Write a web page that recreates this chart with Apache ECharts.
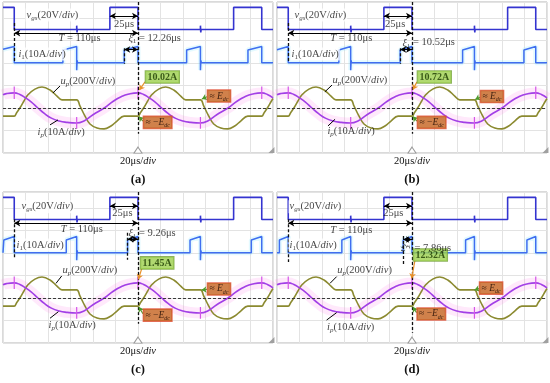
<!DOCTYPE html>
<html><head><meta charset="utf-8">
<script src="https://cdn.jsdelivr.net/npm/echarts@6/dist/echarts.min.js"></script>
<style>html,body{margin:0;padding:0;background:#fff}#c{width:550px;height:383px}</style>
</head><body><div id="c"></div>
<script>
// ---- data (time in μs, vertical position in screen divisions from the bottom) ----
const panelNames = ['(a)', '(b)', '(c)', '(d)'];
const xiValues = [12.26, 10.52, 9.26, 7.86];
const peakCurrents = ['10.02A', '10.72A', '11.45A', '12.32A'];
const timeDivLabel = '20μs/div';

const vgs = [[0,6.47],[10,6.47],[10,5.49],[65.5,5.49],[65.5,5.66],[65.8,5.36],[66.1,5.49],[95,5.49],[95,6.47],[120,6.47],[120,5.49],[175.5,5.49],[175.5,5.66],[175.8,5.36],[176.1,5.49],[205,5.49],[205,6.47],[230,6.47],[230,5.49],[240,5.49]];

const i1A = [[0,4.61],[10,4.73],[10,4.01],[53.24,4.01],[53.24,4.58],[65.5,4.73],[65.5,3.68],[65.9,4.12],[66.3,4.01],[107.74,4.01],[107.74,4.58],[120,4.73],[120,4.01],[163.24,4.01],[163.24,4.58],[175.5,4.73],[175.5,3.68],[175.9,4.12],[176.3,4.01],[217.74,4.01],[217.74,4.58],[230,4.73],[230,4.01],[240,4.01]];
const i1B = [[0,4.59],[10,4.73],[10,4.01],[54.98,4.01],[54.98,4.58],[65.5,4.73],[65.5,3.68],[65.9,4.12],[66.3,4.01],[109.48,4.01],[109.48,4.58],[120,4.73],[120,4.01],[164.98,4.01],[164.98,4.58],[175.5,4.73],[175.5,3.68],[175.9,4.12],[176.3,4.01],[219.48,4.01],[219.48,4.58],[230,4.73],[230,4.01],[240,4.01]];
const i1C = [[0,4.01],[0.74,4.01],[0.74,4.58],[10,4.73],[10,4.01],[56.24,4.01],[56.24,4.58],[65.5,4.73],[65.5,3.68],[65.9,4.12],[66.3,4.01],[110.74,4.01],[110.74,4.58],[120,4.73],[120,4.01],[166.24,4.01],[166.24,4.58],[175.5,4.73],[175.5,3.68],[175.9,4.12],[176.3,4.01],[220.74,4.01],[220.74,4.58],[230,4.73],[230,4.01],[240,4.01]];
const i1D = [[0,4.01],[2.14,4.01],[2.14,4.58],[10,4.73],[10,4.01],[57.64,4.01],[57.64,4.58],[65.5,4.73],[65.5,3.68],[65.9,4.12],[66.3,4.01],[112.14,4.01],[112.14,4.58],[120,4.73],[120,4.01],[167.64,4.01],[167.64,4.58],[175.5,4.73],[175.5,3.68],[175.9,4.12],[176.3,4.01],[222.14,4.01],[222.14,4.58],[230,4.73],[230,4.01],[240,4.01]];

const up = [[0,1.64],[10,1.64],[12,1.78],[15,2.0],[18.5,2.3],[22,2.58],[28.4,2.84],[34.7,2.93],[41.8,2.8],[48,2.53],[52.4,2.36],[65.5,2.36],[68.4,2.09],[72.9,1.64],[77.3,1.29],[83.6,1.11],[89.8,1.07],[96,1.2],[101.3,1.42],[107.6,1.64],[120,1.64],[122,1.78],[125,2.0],[128.5,2.3],[132,2.58],[138.4,2.84],[144.7,2.93],[151.8,2.8],[158,2.53],[162.4,2.36],[175.5,2.36],[178.4,2.09],[182.9,1.64],[187.3,1.29],[193.6,1.11],[199.8,1.07],[206,1.2],[211.3,1.42],[217.6,1.64],[230,1.64],[232,1.78],[235,2.0],[238.5,2.3],[240,2.42]];

const ip = [[0,2.59],[3,2.64],[10,2.67],[15,2.6],[20,2.45],[25,2.27],[31,2.0],[37,1.75],[43,1.55],[50,1.42],[57,1.36],[65,1.33],[72,1.42],[80,1.7],[90,2.0],[98,2.3],[105,2.5],[112,2.62],[120,2.67],[125,2.6],[130,2.45],[135,2.27],[141,2.0],[147,1.75],[153,1.55],[160,1.42],[167,1.36],[175,1.33],[182,1.42],[190,1.7],[200,2.0],[208,2.3],[215,2.5],[222,2.62],[230,2.67],[235,2.6],[240,2.45]];

const ipSpikeT = [10, 65.5, 120, 175.5, 230];
const ipSpikeLo = [2.4, 1.08, 2.4, 1.08, 2.4];
const ipSpikeHi = [2.95, 1.6, 2.95, 1.6, 2.95];

const i1Sets = [i1A, i1B, i1C, i1D];

// ---- layout / styling ----
const FONT = "'Liberation Serif', 'Times New Roman', serif";
const FS = 10.5, FSS = 7;
const R = {
  n:{fontFamily:FONT,fontSize:FS,color:'#111',lineHeight:13},
  i:{fontFamily:FONT,fontSize:FS,fontStyle:'italic',color:'#111',lineHeight:13},
  s:{fontFamily:FONT,fontSize:FSS,color:'#111',lineHeight:9,verticalAlign:'bottom'},
  si:{fontFamily:FONT,fontSize:FSS,fontStyle:'italic',color:'#111',lineHeight:9,verticalAlign:'bottom'},
  g:{fontFamily:FONT,fontSize:10,fontWeight:'bold',color:'#1b3a00',lineHeight:11},
  e:{fontFamily:FONT,fontSize:9.5,color:'#1a0800',lineHeight:12},
  ei:{fontFamily:FONT,fontSize:9.5,fontStyle:'italic',color:'#1a0800',lineHeight:12},
  es:{fontFamily:FONT,fontSize:6,fontStyle:'italic',color:'#1a0800',lineHeight:8,verticalAlign:'bottom'}
};

const L = [
 {gl:3,gt:2, vgsL:[19.6,6.13], T:[68,5.09], t25:[107.6,5.73], xi:[111,5.1], i1L:[12.4,4.4], upL:[50.7,3.2], ipL:[30.2,0.93], peak:[126.2,3.38], E:[181.3,2.53], nE:[124.4,1.36],
  upLead:[[50.7,2.98],[44.4,2.67]], ipLead:[[41.8,1.25],[48.9,1.47]], peakP:[[126.2,3.16],[121.3,2.8]], EP:[[181.3,2.5],[176.8,2.4]], nEP:[[124.4,1.42],[120.8,1.62]],
  d10:[5.78,4.0], dXi:[4.65,3.95], d120:0.85, xiY:4.6},
 {gl:277,gt:2, vgsL:[14.2,6.13], T:[66,5.12], t25:[105,5.73], xi:[111,4.9], i1L:[11.6,4.4], upL:[48.9,3.24], ipL:[44.4,0.95], peak:[124.4,3.38], E:[180.4,2.51], nE:[124.4,1.36],
  upLead:[[48.9,3.02],[42.6,2.72]], ipLead:[[45.3,1.2],[51.6,1.5]], peakP:[[124.4,3.16],[120.8,2.82]], EP:[[180.4,2.48],[176.2,2.38]], nEP:[[124.4,1.42],[120.8,1.62]],
  d10:[5.78,4.0], dXi:[4.65,3.95], d120:0.85, xiY:4.6},
 {gl:3,gt:192, vgsL:[15.1,6.06], T:[70,5.07], t25:[106.2,5.78], xi:[111,4.88], i1L:[10.7,4.36], upL:[52.4,3.24], ipL:[40,0.8], peak:[121.8,3.56], E:[181.3,2.4], nE:[124.4,1.24],
  upLead:[[52.2,2.98],[47.1,2.65]], ipLead:[[41.8,1.1],[49.2,1.39]], peakP:[[123.3,3.3],[120.3,2.83]], EP:[[181.3,2.38],[176.5,2.36]], nEP:[[124.4,1.3],[120.8,1.6]],
  d10:[5.5,3.8], dXi:[4.9,3.7], d120:0.85, xiY:4.62},
 {gl:277,gt:192, vgsL:[9.8,6.06], T:[66,4.99], t25:[103.4,5.78], xi:[121.8,4.22], xiRot:true, i1L:[9.8,4.36], upL:[53,3.24], ipL:[44.1,0.72], peak:[120.9,3.91], E:[179.6,2.44], nE:[124.1,1.29],
  upLead:[[53,2.95],[47.1,2.65]], ipLead:[[44.1,1.02],[53,1.35]], peakP:[[122.7,3.69],[119.7,2.87]], EP:[[179.6,2.42],[175.5,2.36]], nEP:[[124.1,1.35],[120.8,1.6]],
  d10:[5.5,3.6], dXi:[4.75,3.5], d120:0.45, xiY:4.6}
];

function seg(a, b, extra) { return [Object.assign({coord:a}, extra || {}), {coord:b}]; }
function lab(pos, text, extra) {
  return {value:pos, label:Object.assign({show:true, position:'right', distance:0, formatter:text, rich:R}, extra || {})};
}

const grids = [], xAxes = [], yAxes = [], series = [], graphics = [];
L.forEach((p, k) => {
  const xi = xiValues[k];
  const i1 = i1Sets[k];
  grids.push({left:p.gl, top:p.gt, width:270, height:151, show:true, borderColor:'#b5b5b5', borderWidth:1, backgroundColor:'#fff', containLabel:false});
  xAxes.push({type:'value', gridIndex:k, min:0, max:240, interval:20, axisLine:{show:false}, axisTick:{show:false}, axisLabel:{show:false}, splitLine:{show:true, lineStyle:{color:'#e3e3e3', width:1}}});
  yAxes.push({type:'value', gridIndex:k, min:0, max:6.711, interval:1, axisLine:{show:false}, axisTick:{show:false}, axisLabel:{show:false}, splitLine:{show:true, lineStyle:{color:'#e3e3e3', width:1}}});
  const base = {xAxisIndex:k, yAxisIndex:k, symbol:'none', silent:true, animation:false};
  const mlBase = {silent:true, animation:false, label:{show:false}, emphasis:{disabled:true}};

  // glows
  series.push(Object.assign({}, base, {type:'line', data:i1, lineStyle:{color:'rgba(130,230,255,0.22)', width:5}, z:1}));
  series.push(Object.assign({}, base, {type:'line', data:ip, smooth:0.5, lineStyle:{color:'rgba(255,120,230,0.16)', width:11}, z:1}));

  // v_gs with double arrows
  series.push(Object.assign({}, base, {type:'line', data:vgs, lineStyle:{color:'#3434d0', width:1.6}, z:3,
    markLine:Object.assign({}, mlBase, {symbol:['arrow','arrow'], symbolSize:[5,6], lineStyle:{color:'#000', width:1, type:'solid'},
      data:[seg([95,6.09],[120,6.09]), seg([10,5.33],[120,5.33]), seg([120 - xi, p.xiY],[120, p.xiY])]})}));

  // i1 with dashed helper lines
  series.push(Object.assign({}, base, {type:'line', data:i1, lineStyle:{color:'#3f6ef0', width:1.5}, z:3,
    markLine:Object.assign({}, mlBase, {symbol:['none','none'], lineStyle:{color:'#111', width:1.3, type:[3,2]},
      data:[seg([120,6.711],[120,p.d120]), seg([10,p.d10[0]],[10,p.d10[1]]), seg([120 - xi,p.dXi[0]],[120 - xi,p.dXi[1]]),
            seg([0,2],[240,2], {lineStyle:{color:'#3a3a3a', width:1, type:[3,2]}})]})}));

  // u_p with leader lines
  series.push(Object.assign({}, base, {type:'line', data:up, smooth:0.4, lineStyle:{color:'#8b8a30', width:1.6}, z:4,
    markLine:Object.assign({}, mlBase, {symbol:['none','none'], lineStyle:{color:'#000', width:1, type:'solid'},
      data:[seg(p.upLead[0], p.upLead[1]), seg(p.ipLead[0], p.ipLead[1])]})}));

  // i_p with pointers
  series.push(Object.assign({}, base, {type:'line', data:ip, smooth:0.5, lineStyle:{color:'#a23fe6', width:1.6}, z:4,
    markLine:Object.assign({}, mlBase, {symbol:['none','arrow'], symbolSize:5, lineStyle:{color:'#4f9a2c', width:1.2, type:'solid'},
      data:[seg(p.peakP[0], p.peakP[1], {lineStyle:{color:'#e8902a', width:1.2, type:'solid'}}), seg(p.EP[0], p.EP[1]), seg(p.nEP[0], p.nEP[1])]})}));

  // i_p spikes
  const sp = [];
  ipSpikeT.forEach((t, j) => { sp.push([t, ipSpikeLo[j]], [t, ipSpikeHi[j]], [t, '-']); });
  series.push(Object.assign({}, base, {type:'line', data:sp, connectNulls:false, lineStyle:{color:'#d455e8', width:1.2}, z:4}));

  // annotations
  const ann = [
    lab(p.vgsL, '{i|v}{si|gs}{n|(20V/}{i|div}{n|)}', {backgroundColor:'#fff', padding:[0,1]}),
    lab(p.t25, '{n|25μs}', {position:'inside'}),
    lab(p.T, '{i|T}{n| = 110μs}', {position:'inside'}),
    lab(p.i1L, '{i|i}{s|1}{n|(10A/}{i|div}{n|)}', {backgroundColor:'#fff', padding:[0,1]}),
    lab(p.upL, '{i|u}{si|p}{n|(200V/}{i|div}{n|)}'),
    lab(p.ipL, '{i|i}{si|p}{n|(10A/}{i|div}{n|)}'),
    lab(p.peak, '{g|' + peakCurrents[k] + '}', {backgroundColor:'#9ccf4c', borderColor:'#6f9f35', borderWidth:0.8, padding:[1,2,0,2]}),
    lab(p.E, '{e|≈ }{ei|E}{es|dc}', {backgroundColor:'#c4611e', borderColor:'#e04a30', borderWidth:0.8, padding:[0,2]}),
    lab(p.nE, '{e|≈ −}{ei|E}{es|dc}', {backgroundColor:'#c4611e', borderColor:'#e04a30', borderWidth:0.8, padding:[0,2]})
  ];
  if (p.xiRot) {
    ann.push(lab([114.8, 4.22], '{i|ξ}{s|1}', {position:'inside', rotate:-90}));
    ann.push(lab(p.xi, '{n|= ' + xi.toFixed(2) + 'μs}'));
  } else {
    ann.push(lab(p.xi, '{i|ξ}{s|1}{n| = ' + xi.toFixed(2) + 'μs}'));
  }
  series.push({type:'scatter', xAxisIndex:k, yAxisIndex:k, silent:true, animation:false, symbol:'circle', symbolSize:1,
    itemStyle:{color:'transparent'}, z:10, data:ann,
    markPoint:{silent:true, animation:false, label:{show:false},
      data:[{coord:[120,0.13], symbol:'triangle', symbolSize:[8,6], itemStyle:{color:'#fff', borderColor:'#9a9a9a', borderWidth:1}},
            {coord:[238.6,0.13], symbol:'path://M10 0L10 10L0 10Z', symbolSize:6, itemStyle:{color:'#a0a0a0'}}]}});

  const cx = p.gl + 135;
  const bottom = p.gt + 151;
  graphics.push({type:'text', x:cx, y:bottom + 8, silent:true, style:{text:'{n|20μs/}{i|div}', align:'center', verticalAlign:'middle',
    rich:{n:{fontFamily:FONT, fontSize:10.5, fill:'#111'}, i:{fontFamily:FONT, fontSize:10.5, fontStyle:'italic', fill:'#111'}}}});
  graphics.push({type:'text', x:cx, y:bottom + 27, silent:true, style:{text:panelNames[k], align:'center', verticalAlign:'middle',
    fontFamily:FONT, fontSize:12.5, fontWeight:'bold', fill:'#111'}});
});

const chart = echarts.init(document.getElementById('c'), null, {renderer:'canvas'});
chart.setOption({animation:false, backgroundColor:'#fff', grid:grids, xAxis:xAxes, yAxis:yAxes, series:series, graphic:graphics});
</script></body></html>
